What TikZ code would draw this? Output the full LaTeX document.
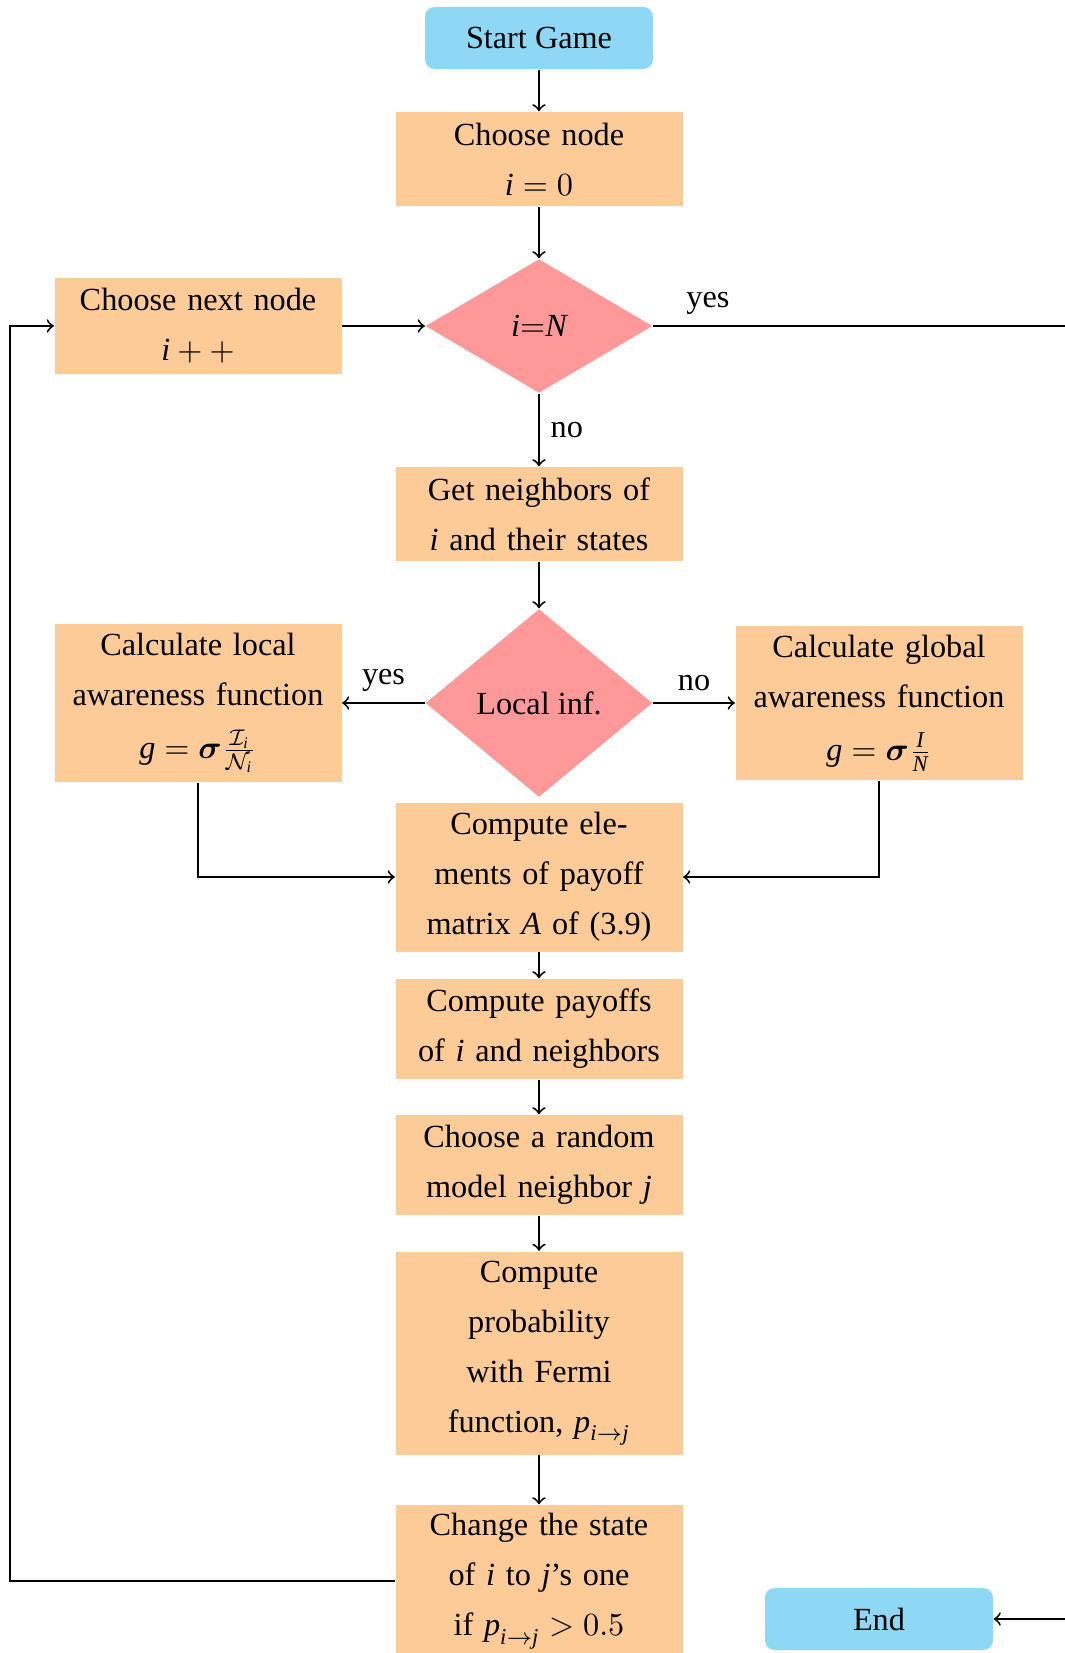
\documentclass[tikz,border=0pt]{standalone}
\usepackage{amsmath}
\usepackage{fontspec}
\setmainfont{Liberation Serif}
\usetikzlibrary{shapes.geometric}

\definecolor{procfill}{RGB}{253,203,151}
\definecolor{termfill}{RGB}{142,216,246}
\definecolor{decfill}{RGB}{255,153,153}

% lengths given in drawing units
\newcommand\pxl[1]{#1*0.31pt}
% italic letters in the text face, kept at natural spacing
\newcommand\vi[1]{\textit{#1}}
\newcommand\fm[1]{\mbox{$#1$}}

\begin{document}
\begin{tikzpicture}[
  x=0.31pt, y=-0.31pt,
  font=\fontsize{10}{15.5}\selectfont,
  proc/.style={rectangle, fill=procfill, minimum width=\pxl{287},
    text width=\pxl{272}, align=center, inner sep=0pt},
  term/.style={rectangle, rounded corners=3pt, fill=termfill,
    minimum width=\pxl{228}, minimum height=\pxl{62}, inner sep=0pt},
  decide/.style={diamond, fill=decfill, minimum width=\pxl{227}, inner sep=0pt},
  flow/.style={->, line width=0.6pt},
]
\useasboundingbox (0,0) rectangle (1065,1653);

% nodes
\node[term] (start) at (539,38) {Start Game};
\node[proc, minimum height=\pxl{94}] (init) at (539,159) {Choose node\\ \fm{\vi{i}=0}};
\node[decide, minimum height=\pxl{134}] (lastq) at (539,326) {\fm{\vi{i}{=}\vi{N}}};
\node[proc, minimum height=\pxl{96}] (next) at (198,326) {Choose next node\\ \fm{\vi{i}++}};
\node[proc, minimum height=\pxl{94}] (neigh) at (539,514) {Get neighbors of\\ \vi{i} and their states};
\node[decide, minimum height=\pxl{188}] (localq) at (539,703) {Local inf.};
\node[proc, minimum height=\pxl{158}] (local) at (198,703)
  {Calculate local\\ awareness function\\[1pt] \fm{\vi{g}=\boldsymbol{\sigma}\frac{\mathcal{I}_{\vi{i}}}{\mathcal{N}_{\vi{i}}}}};
\node[proc, minimum height=\pxl{154}] (global) at (879,703)
  {Calculate global\\ awareness function\\[1pt] \fm{\vi{g}=\boldsymbol{\sigma}\frac{\vi{I}}{\vi{N}}}};
\node[proc, minimum height=\pxl{149}] (elem) at (539,877)
  {Compute ele-\\ ments of payoff\\ matrix \vi{A} of (3.9)};
\node[proc, minimum height=\pxl{100}] (pay) at (539,1029) {Compute payoffs\\ of \vi{i} and neighbors};
\node[proc, minimum height=\pxl{100}] (model) at (539,1165) {Choose a random\\ model neighbor \vi{j}};
\node[proc, minimum height=\pxl{203}] (prob) at (539,1353)
  {Compute\\ probability\\ with Fermi\\ function, \fm{\vi{p}_{\vi{i}\to \vi{j}}}};
\node[proc, minimum height=\pxl{152}] (change) at (539,1581)
  {Change the state\\ of \vi{i} to \vi{j}'s one\\ if \fm{\vi{p}_{\vi{i}\to \vi{j}}>0.5}};
\node[term] (finish) at (879,1619) {End};

% routing points for the outer loops
\coordinate (rim) at (1075,326);
\coordinate (rail) at (10,0);

% connectors
\draw[flow] (start) -- (init);
\draw[flow] (init) -- (lastq);
\draw[flow] (next) -- (lastq);
\draw[flow] (lastq) -- node[right]{no} (neigh);
\draw[flow] (lastq.east) -- node[above, pos=0.13]{yes} (rim) |- (finish.east);
\draw[flow] (neigh) -- (localq);
\draw[flow] (localq) -- node[above]{yes} (local);
\draw[flow] (localq) -- node[above]{no} (global);
\draw[flow] (local.south) |- (elem.west);
\draw[flow] (global.south) |- (elem.east);
\draw[flow] (elem) -- (pay);
\draw[flow] (pay) -- (model);
\draw[flow] (model) -- (prob);
\draw[flow] (prob) -- (change);
\draw[flow] (change.west) -- (change.west -| rail) |- (next.west);
\end{tikzpicture}
\end{document}
